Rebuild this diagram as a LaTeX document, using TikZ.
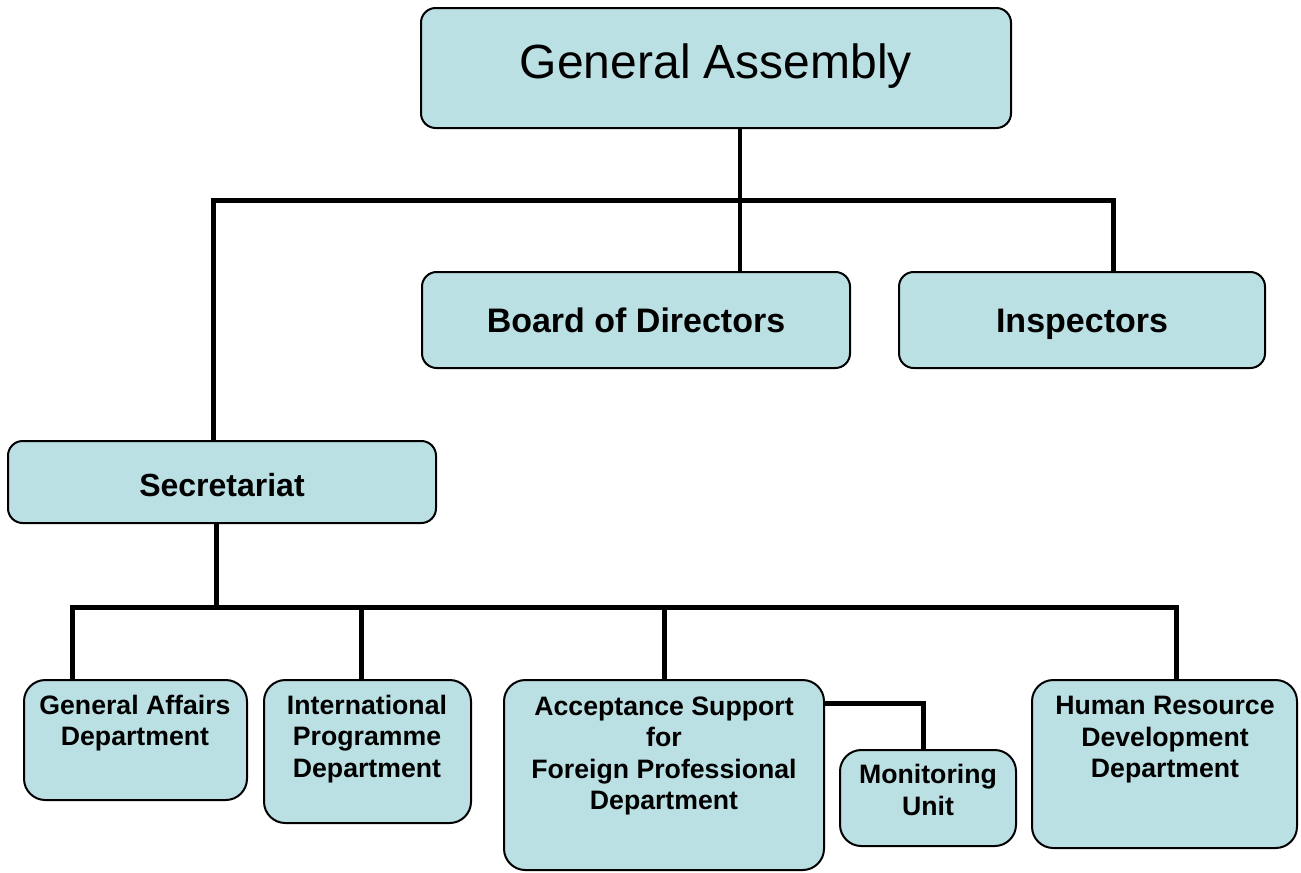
\documentclass[tikz,border=0pt]{standalone}
\usepackage{fontspec}
\setmainfont{Liberation Sans}
\definecolor{boxblue}{RGB}{187,224,227}
\begin{document}
\begin{tikzpicture}[x=0.75pt,y=-0.75pt,
  box/.style={draw=black, line width=1.5pt, fill=boxblue, rounded corners=11pt, inner sep=0pt, minimum width=#1},
  bigbox/.style={draw=black, line width=1.5pt, fill=boxblue, rounded corners=16pt, inner sep=0pt, minimum width=#1},
  lbl/.style={align=center, inner sep=0pt, font=\bfseries\fontsize{20pt}{23.6pt}\selectfont},
  conn/.style={line width=3.75pt, line join=miter}]
\useasboundingbox (0,0) rectangle (1301,872);
% boxes
\node[box=442.5pt, minimum height=90pt] (ga) at (716,68) {};
\node[box=321pt, minimum height=72pt] (bod) at (636,320) {};
\node[box=274.5pt, minimum height=72pt] (insp) at (1082,320) {};
\node[box=321pt, minimum height=61.5pt] (sec) at (222,482) {};
\node[bigbox=167.25pt, minimum height=90pt] (gad) at (135.5,740) {};
\node[bigbox=155.25pt, minimum height=107.25pt] (ipd) at (367.5,751.5) {};
\node[bigbox=240pt, minimum height=142.5pt] (asd) at (664,775) {};
\node[bigbox=132pt, minimum height=72pt] (mon) at (928,798) {};
\node[bigbox=198.75pt, minimum height=126pt] (hrd) at (1164.5,764) {};
% texts
\node[inner sep=0pt, anchor=base, font=\fontsize{36pt}{43pt}\selectfont] (gat) at (716,78) {General Assembly};
\node[inner sep=0pt, anchor=base, font=\bfseries\fontsize{25.5pt}{30pt}\selectfont] (bodt) at (636,332) {Board of Directors};
\node[inner sep=0pt, anchor=base, font=\bfseries\fontsize{25.5pt}{30pt}\selectfont] (inspt) at (1082,332) {Inspectors};
\node[inner sep=0pt, font=\bfseries\fontsize{24pt}{28pt}\selectfont] (sect) at (222,485) {Secretariat};
\node[lbl] (gadt) at (135,723) {General Affairs\\Department};
\node[lbl] (ipdt) at (367,739) {International\\Programme\\Department};
\node[lbl] (asdt) at (664,756) {Acceptance Support\\for\\Foreign Professional\\Department};
\node[lbl] (mont) at (928,790) {Monitoring\\Unit};
\node[lbl] (hrdt) at (1165,740) {Human Resource\\Development\\Department};
% junction coordinates
\coordinate (jga) at (740,200);
\coordinate (hl) at (215,200);
\coordinate (hr) at (1113,200);
\coordinate (sl) at (213,198);
\coordinate (js) at (216,607);
\coordinate (bl) at (72,605);
\coordinate (br) at (1176,607);
\coordinate (jip) at (361,607);
\coordinate (jas) at (664,607);
\coordinate (jm) at (923,703);
% connectors
\draw[line width=3pt] (ga.south -| jga) -- (bod.north -| jga);
\draw[conn] (hl) -- (hr) -- (hr |- insp.north);
\draw[conn] (sl) -- (sec.north -| sl);
\draw[conn] (sec.south -| js) -- (js);
\draw[conn] (gad.north -| bl) -- (bl) |- (br) -- (br |- hrd.north);
\draw[conn] (jip) -- (ipd.north -| jip);
\draw[conn] (jas) -- (asd.north -| jas);
\draw[conn] (jm -| asd.east) -- (jm) -- (jm |- mon.north);
\end{tikzpicture}
\end{document}
